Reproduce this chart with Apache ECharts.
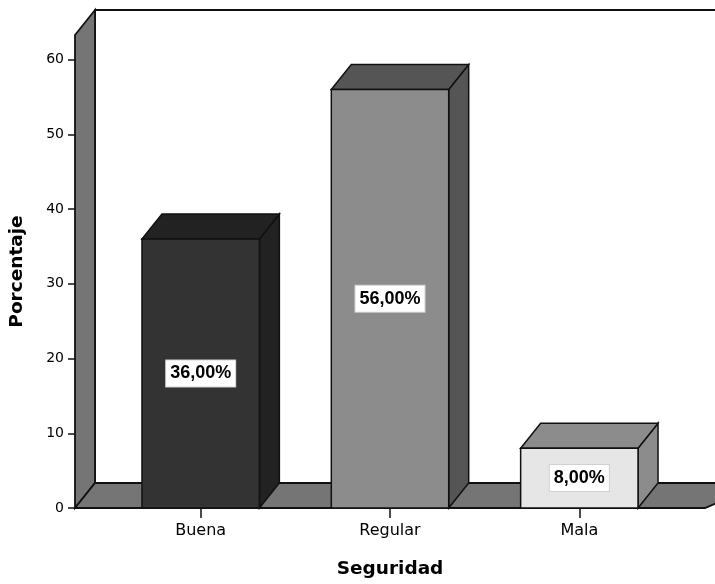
<!DOCTYPE html>
<html>
<head>
<meta charset="utf-8">
<script src="https://cdn.jsdelivr.net/npm/echarts@6/dist/echarts.min.js"></script>
<style>
  html, body { margin: 0; padding: 0; background: #fff; }
  #chart { width: 715px; height: 584px; }
</style>
</head>
<body>
<div id="chart"></div>
<script>
// Seguridad: percentage of answers per rating
const categories = ['Buena', 'Regular', 'Mala'];
const percentages = [36, 56, 8];
const yTicks = [0, 10, 20, 30, 40, 50, 60];

// face colours for each box (front, then top/side shading)
const frontColors = ['#333333', '#8c8c8c', '#e6e6e6'];
const shadeColors = ['#222222', '#555555', '#8c8c8c'];

const DX = 20, DY = 25;      // depth of the 3D extrusion in px
const EXTRA = 31;            // how far the floor reaches past the category bands
const WALL = '#757575';
const EDGE = '#111111';

function fmtPct(v) {
  return v.toFixed(2).replace('.', ',') + '%';
}

const chart = echarts.init(document.getElementById('chart'), null, { renderer: 'canvas' });

// back wall, left side panel and floor of the plot box
function renderFrame(params, api) {
  const cs = params.coordSys;
  const x0 = cs.x - EXTRA, x1 = cs.x + cs.width + EXTRA;
  const yBottom = cs.y + cs.height, yTop = cs.y;
  const far = x1 + DX + 40;
  const lineStyle = { stroke: EDGE, lineWidth: 1.8 };
  return {
    type: 'group',
    children: [
      { type: 'polygon', shape: { points: [[x0 + DX, yBottom - DY], [x0 + DX, yTop - DY], [far, yTop - DY], [far, yBottom - DY]] },
        style: Object.assign({ fill: '#ffffff' }, lineStyle) },
      { type: 'polygon', shape: { points: [[x0, yBottom], [x0, yTop], [x0 + DX, yTop - DY], [x0 + DX, yBottom - DY]] },
        style: Object.assign({ fill: WALL }, lineStyle) },
      { type: 'polygon', shape: { points: [[x0, yBottom], [x0 + DX, yBottom - DY], [far, yBottom - DY], [x1, yBottom]] },
        style: Object.assign({ fill: WALL }, lineStyle) }
    ]
  };
}

// one extruded box per category, with its value label on the front face
function renderBox(params, api) {
  const i = params.dataIndex;
  const v = api.value(1);
  const top = api.coord([api.value(0), v]);
  const base = api.coord([api.value(0), 0]);
  const w = api.size([1, 0])[0] * 0.62;
  const xl = top[0] - w / 2, xr = top[0] + w / 2;
  const yt = top[1], yb = base[1];
  const edge = { stroke: EDGE, lineWidth: 1.5 };
  return {
    type: 'group',
    children: [
      { type: 'polygon', shape: { points: [[xr, yt], [xr + DX, yt - DY], [xr + DX, yb - DY], [xr, yb]] },
        style: Object.assign({ fill: shadeColors[i] }, edge) },
      { type: 'polygon', shape: { points: [[xl, yt], [xl + DX, yt - DY], [xr + DX, yt - DY], [xr, yt]] },
        style: Object.assign({ fill: shadeColors[i] }, edge) },
      { type: 'rect', shape: { x: xl, y: yt, width: w, height: yb - yt },
        style: Object.assign({ fill: frontColors[i] }, edge) },
      { type: 'text', x: top[0], y: (yt + yb) / 2,
        style: {
          text: fmtPct(v),
          fill: '#000',
          font: 'bold 18px "Liberation Sans", Arial, sans-serif',
          align: 'center', verticalAlign: 'middle',
          backgroundColor: '#ffffff',
          borderColor: '#d0d0d0', borderWidth: 1,
          padding: [5, 4, 3, 4]
        } }
    ]
  };
}

chart.setOption({
  animation: false,
  backgroundColor: '#ffffff',
  grid: { left: 105, right: 41, top: 35, bottom: 76, containLabel: false },
  xAxis: {
    type: 'category',
    data: categories,
    name: 'Seguridad',
    nameLocation: 'middle',
    nameGap: 52,
    nameTextStyle: { fontFamily: 'DejaVu Sans', fontWeight: 'bold', fontSize: 18.5, color: '#000' },
    axisLine: { show: false },
    axisTick: { show: true, alignWithLabel: true, length: 10, lineStyle: { color: '#111', width: 1.5 } },
    axisLabel: { margin: 15, fontFamily: 'DejaVu Sans', fontSize: 16, color: '#000' },
    splitLine: { show: false }
  },
  yAxis: {
    type: 'value',
    min: 0,
    max: 63.3,
    interval: 10,
    offset: 31,
    name: 'Porcentaje',
    nameLocation: 'middle',
    nameGap: 48,
    nameRotate: 90,
    nameTextStyle: { fontFamily: 'DejaVu Sans', fontWeight: 'bold', fontSize: 18.5, color: '#000' },
    axisLine: { show: false },
    axisTick: { show: true, length: 7, customValues: yTicks, lineStyle: { color: '#111', width: 1.5 } },
    axisLabel: { margin: 11, customValues: yTicks, fontFamily: 'DejaVu Sans', fontSize: 14, color: '#000' },
    splitLine: { show: false }
  },
  series: [
    {
      type: 'custom',
      name: 'frame',
      z: 1,
      silent: true,
      renderItem: renderFrame,
      data: [[0, 0]]
    },
    {
      type: 'custom',
      name: 'Seguridad',
      z: 2,
      renderItem: renderBox,
      encode: { x: 0, y: 1 },
      data: percentages.map((v, i) => [i, v])
    }
  ]
});
</script>
</body>
</html>
